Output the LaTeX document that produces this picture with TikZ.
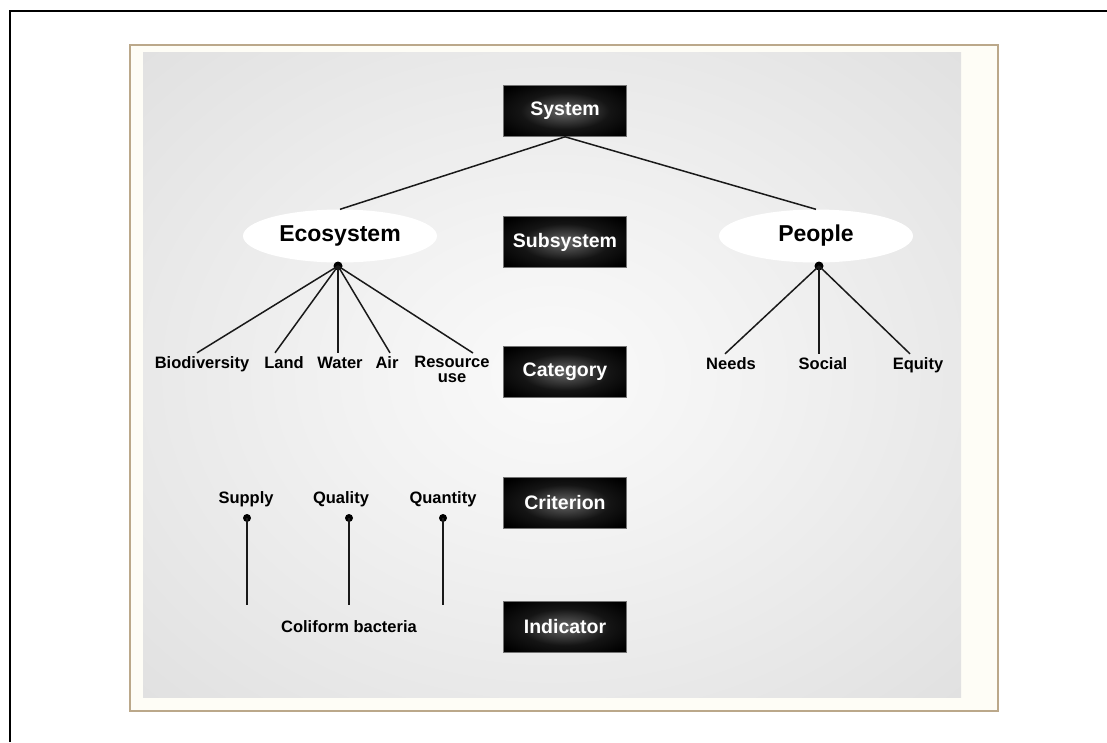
\documentclass[tikz,border=0pt]{standalone}
\usepackage{fontspec}
\setmainfont{Liberation Sans}
\usetikzlibrary{shapes.geometric,calc}
\definecolor{frametan}{HTML}{BBA88A}
\definecolor{cream}{HTML}{FEFDF6}
\pgfdeclareradialshading{panelshade}{\pgfpoint{0bp}{0bp}}{color(0bp)=(black!2); color(12bp)=(black!5); color(50bp)=(black!16)}
\pgfdeclareradialshading{boxshade}{\pgfpoint{0bp}{0bp}}{color(0bp)=(black!60); color(18bp)=(black!92); color(32bp)=(black); color(50bp)=(black)}
\begin{document}
\begin{tikzpicture}[x=1pt,y=-1pt,
  lvl/.style={shade, shading=boxshade, draw=black!55, line width=0.6pt, minimum width=123pt, minimum height=51pt, inner sep=0pt, text=white, font=\fontsize{19.5}{21}\selectfont\bfseries},
  sub/.style={ellipse, fill=white, minimum width=194pt, minimum height=53pt, inner sep=0pt, font=\fontsize{23}{24}\selectfont\bfseries},
  lbl/.style={inner sep=1pt, font=\fontsize{16.5}{15}\selectfont\bfseries, anchor=base},
  hub/.style={circle, fill=black, inner sep=0pt, minimum size=9pt},
  link/.style={line width=1.5pt, black!90}]
\useasboundingbox (0,0) rectangle (1107,742);
\draw[line width=2pt, line join=miter] (10,742) -- (10,11) -- (1107,11);
\draw[draw=frametan, fill=cream, line width=1.5pt] (130,45) rectangle (998,711);
\shade[shading=panelshade] (143,52) rectangle (961,697);

\node[lvl] (system) at (565,111) {System};
\node[lvl] (subsys) at (565,242) {Subsystem};
\node[lvl] (category) at (565,372) {Category};
\node[lvl] (criterion) at (565,503) {Criterion};
\node[lvl] (indicator) at (565,627) {Indicator};

\node[sub] (eco) at (340,236) {Ecosystem};
\node[sub] (people) at (816,236) {People};
\node[hub] (ehub) at (338,266) {};
\node[hub] (phub) at (819,266) {};

\node[lbl] (bio) at (202,368) {Biodiversity};
\node[lbl] (land) at (284,368) {Land};
\node[lbl] (water) at (340,368) {Water};
\node[lbl] (air) at (387,368) {Air};
\node[lbl, anchor=north, align=center] (res) at (452,355) {Resource\\use};
\node[lbl] (needs) at (731,369) {Needs};
\node[lbl] (social) at (823,369) {Social};
\node[lbl] (equity) at (918,369) {Equity};

\node[lbl] (supply) at (246,503) {Supply};
\node[lbl] (quality) at (341,503) {Quality};
\node[lbl] (quantity) at (443,503) {Quantity};
\node[lbl] (coliform) at (349,632) {Coliform bacteria};
\node[hub, minimum size=8pt] (d1) at (247,518) {};
\node[hub, minimum size=8pt] (d2) at (349,518) {};
\node[hub, minimum size=8pt] (d3) at (443,518) {};
\coordinate (e1) at (247,605);
\coordinate (e2) at (349,605);
\coordinate (e3) at (443,605);

\draw[link] (system.south) -- (eco.north);
\draw[link] (system.south) -- (people.north);
\draw[link] (ehub.center) -- ([xshift=-5pt,yshift=2pt]bio.north);
\draw[link] (ehub.center) -- ([xshift=-9pt,yshift=2pt]land.north);
\draw[link] (ehub.center) -- ([xshift=-2pt,yshift=2pt]water.north);
\draw[link] (ehub.center) -- ([xshift=3pt,yshift=2pt]air.north);
\draw[link] (ehub.center) -- ([xshift=21pt,yshift=2pt]res.north);
\draw[link] (phub.center) -- ([xshift=-6pt,yshift=2pt]needs.north);
\draw[link] (phub.center) -- ([xshift=-4pt,yshift=2pt]social.north);
\draw[link] (phub.center) -- ([xshift=-8pt,yshift=2pt]equity.north);
\draw[link] (d1.center) -- (e1);
\draw[link] (d2.center) -- (e2);
\draw[link] (d3.center) -- (e3);
\end{tikzpicture}
\end{document}
